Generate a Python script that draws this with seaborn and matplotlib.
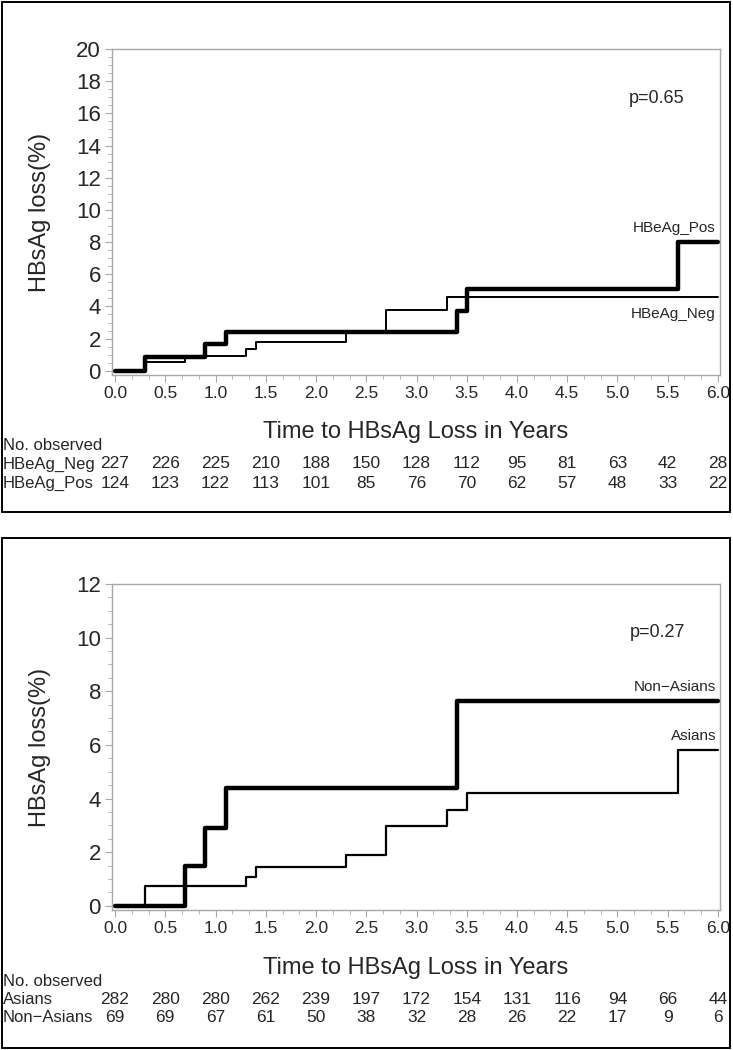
import matplotlib.pyplot as plt
import matplotlib.patches as patches
from matplotlib.ticker import MultipleLocator
from matplotlib.transforms import blended_transform_factory
import pandas as pd
import seaborn as sns

# panel 1: HBeAg status
neg_time = [0.0, 0.3, 0.7, 1.3, 1.4, 2.3, 2.7, 3.3, 6.0]
neg_loss = [0.0, 0.57, 0.92, 1.37, 1.8, 2.42, 3.75, 4.58, 4.58]
pos_time = [0.0, 0.3, 0.9, 1.1, 3.4, 3.5, 5.6, 6.0]
pos_loss = [0.0, 0.84, 1.64, 2.42, 3.72, 5.1, 8.0, 8.0]
neg_at_risk = [227, 226, 225, 210, 188, 150, 128, 112, 95, 81, 63, 42, 28]
pos_at_risk = [124, 123, 122, 113, 101, 85, 76, 70, 62, 57, 48, 33, 22]

# panel 2: ethnicity
asian_time = [0.0, 0.3, 1.3, 1.4, 2.3, 2.7, 3.3, 3.5, 5.6, 6.0]
asian_loss = [0.0, 0.75, 1.07, 1.45, 1.9, 2.97, 3.59, 4.22, 5.8, 5.8]
nonasian_time = [0.0, 0.7, 0.9, 1.1, 3.4, 6.0]
nonasian_loss = [0.0, 1.48, 2.9, 4.38, 7.65, 7.65]
asian_at_risk = [282, 280, 280, 262, 239, 197, 172, 154, 131, 116, 94, 66, 44]
nonasian_at_risk = [69, 69, 67, 61, 50, 38, 32, 28, 26, 22, 17, 9, 6]

tick_years = [0.0, 0.5, 1.0, 1.5, 2.0, 2.5, 3.0, 3.5, 4.0, 4.5, 5.0, 5.5, 6.0]

W, H = 733, 1050
sns.set_style("white")
plt.rcParams['font.family'] = ['Liberation Sans', 'DejaVu Sans']

fig = plt.figure(figsize=(W / 100, H / 100), dpi=100)


def fy(px):
    return 1 - px / H


def panel(box, ax_top, ax_bot, ymax, names, times, losses, widths, risks,
          pval, label_offsets, text_rows):
    # outer frame
    fig.add_artist(patches.Rectangle((1.5 / W, fy(box[1])), 728.5 / W, (box[1] - box[0]) / H,
                                     transform=fig.transFigure, fill=False, ec='black', lw=1.4))
    ax = fig.add_axes([112 / W, fy(ax_bot), 608 / W, (ax_bot - ax_top) / H])

    frames = []
    for n, t, l in zip(names, times, losses):
        frames.append(pd.DataFrame({'time': t, 'loss': l, 'group': n}))
    df = pd.concat(frames, ignore_index=True)
    sns.lineplot(data=df, x='time', y='loss', hue='group', size='group',
                 palette={n: 'black' for n in names}, sizes=dict(zip(names, widths)),
                 estimator=None, sort=False, drawstyle='steps-post', legend=False, ax=ax)

    ax.set_xlim(-0.03, 6.02)
    ax.set_ylim(-ymax * 0.013, ymax)
    ax.set_xticks(tick_years)
    ax.set_xticklabels([f"{t:.1f}" for t in tick_years], fontsize=12.5)
    ax.xaxis.set_minor_locator(MultipleLocator(1 / 6))
    ax.yaxis.set_major_locator(MultipleLocator(2))
    ax.yaxis.set_minor_locator(MultipleLocator(0.5))
    ax.tick_params(axis='y', labelsize=16)
    for s in ax.spines.values():
        s.set_color('#a8a8a8')
        s.set_linewidth(1)
    ax.tick_params(which='both', direction='out', color='#a8a8a8', bottom=True, left=True, pad=3)
    ax.tick_params(which='major', length=5)
    ax.tick_params(which='minor', length=3)

    ax.set_xlabel('')
    ax.set_ylabel('HBsAg loss(%)', fontsize=17)
    ax.yaxis.set_label_coords(-0.1, 0.5)

    # p value and curve labels
    ax.text(5.67, pval[1], pval[0], ha='right', va='center', fontsize=13)
    for n, l, off in zip(names, losses, label_offsets):
        ax.annotate(n, xy=(5.98, l[-1]), xytext=(0, off), textcoords='offset points',
                    ha='right', va='center', fontsize=11)

    # x label and numbers at risk
    tr = blended_transform_factory(ax.transData, fig.transFigure)
    ax.text(0.5, fy(text_rows[0]), 'Time to HBsAg Loss in Years',
            transform=blended_transform_factory(ax.transAxes, fig.transFigure),
            ha='center', va='center', fontsize=17)
    fig.text(3 / W, fy(text_rows[1]), 'No. observed', ha='left', va='center', fontsize=12)
    for n, r, yy in zip(names, risks, text_rows[2:]):
        fig.text(3 / W, fy(yy), n, ha='left', va='center', fontsize=12)
        for t, v in zip(tick_years, r):
            ax.text(t, fy(yy), str(v), transform=tr, ha='center', va='center', fontsize=12.5)
    return ax


panel((1.5, 512), 49, 375, 20,
      ['HBeAg_Neg', 'HBeAg_Pos'], [neg_time, pos_time], [neg_loss, pos_loss], [1.4, 3.2],
      [neg_at_risk, pos_at_risk], ('p=0.65', 16.9), [-12, 10], [432, 445, 464, 483])

panel((538, 1048), 584, 910, 12,
      ['Asians', 'Non\u2212Asians'], [asian_time, nonasian_time], [asian_loss, nonasian_loss], [1.6, 3.2],
      [asian_at_risk, nonasian_at_risk], ('p=0.27', 10.2), [10, 10], [968, 982, 999, 1017])

fig.savefig('out.png', dpi=100)
